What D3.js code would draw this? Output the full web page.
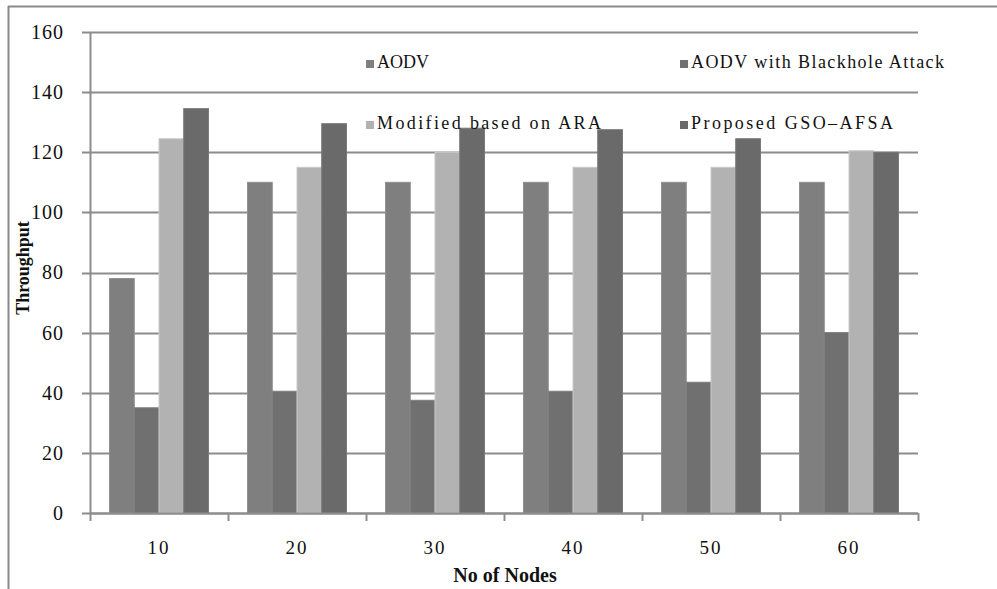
<!DOCTYPE html>
<html><head><meta charset="utf-8">
<script src="https://cdn.jsdelivr.net/npm/d3@7"></script>
<style>body{margin:0;background:#fff;}svg{display:block;}</style>
</head><body>
<script>
const categories = ["10","20","30","40","50","60"];
const seriesNames = ["AODV","AODV with Blackhole Attack","Modified based on ARA","Proposed GSO–AFSA"];
const aodv = [78,110,110,110,110,110];
const blackhole = [35,40.5,37.5,40.5,43.5,60];
const modifiedARA = [124.5,115,120,115,115,120.5];
const proposed = [134.5,129.5,128,127.5,124.5,120];
const yTicks = [0,20,40,60,80,100,120,140,160];
const colors = ["#7f7f7f","#707070","#b2b2b2","#6a6a6a"];
const series = [aodv, blackhole, modifiedARA, proposed];

const W = 997, H = 589;
const m = {left:90, right:79, top:32, bottom:76};
const svg = d3.select("body").append("svg").attr("width",W).attr("height",H);
const font = "'Liberation Serif','Times New Roman',serif";

// outer frame (top and left only visible)
svg.append("line").attr("x1",8).attr("x2",W).attr("y1",6.5).attr("y2",6.5).attr("stroke","#8a8a8a").attr("stroke-width",2);
svg.append("line").attr("x1",8.5).attr("x2",8.5).attr("y1",6).attr("y2",H).attr("stroke","#8a8a8a").attr("stroke-width",2);

const x0 = d3.scaleBand().domain(categories).range([m.left, W-m.right]).paddingInner(0).paddingOuter(0);
const y = d3.scaleLinear().domain([0,160]).range([H-m.bottom, m.top]);
const groupW = x0.bandwidth();
const x1 = d3.scaleBand().domain(d3.range(4)).range([0, groupW]).paddingInner(0).paddingOuter(0.79);

// gridlines
svg.append("g").selectAll("line").data(yTicks).join("line")
  .attr("x1",m.left-8).attr("x2",W-m.right)
  .attr("y1",d=>Math.round(y(d))+0.5).attr("y2",d=>Math.round(y(d))+0.5)
  .attr("stroke","#8c8c8c").attr("stroke-width",2);

// bars
const g = svg.append("g");
categories.forEach((c,ci)=>{
  series.forEach((s,si)=>{
    g.append("rect")
      .attr("x", x0(c)+x1(si))
      .attr("y", y(s[ci]))
      .attr("width", x1.bandwidth())
      .attr("height", y(0)-y(s[ci]))
      .attr("fill", colors[si])
      .attr("stroke", d3.color(colors[si]).brighter(0.35))
      .attr("stroke-width",1);
  });
});

// y axis line
svg.append("line").attr("x1",m.left+0.5).attr("x2",m.left+0.5).attr("y1",m.top).attr("y2",H-m.bottom)
  .attr("stroke","#8c8c8c").attr("stroke-width",2);
// x axis
const xAxis = d3.axisBottom(x0).tickSize(0).tickPadding(28);
const xg = svg.append("g").attr("transform",`translate(0,${H-m.bottom})`).call(xAxis);
xg.select(".domain").remove();
xg.selectAll("text").attr("font-family",font).attr("font-size",19).attr("fill","#111").attr("letter-spacing",2);
svg.append("line").attr("x1",m.left).attr("x2",W-m.right).attr("y1",H-m.bottom+0.5).attr("y2",H-m.bottom+0.5)
  .attr("stroke","#8c8c8c").attr("stroke-width",2);
// category tick marks at boundaries
const bounds = categories.map(c=>x0(c)).concat([W-m.right]);
svg.append("g").selectAll("line").data(bounds).join("line")
  .attr("x1",d=>d+0.5).attr("x2",d=>d+0.5).attr("y1",H-m.bottom).attr("y2",H-m.bottom+8)
  .attr("stroke","#8c8c8c").attr("stroke-width",2);

// y tick labels
const yAxis = d3.axisLeft(y).tickValues(yTicks).tickSize(0).tickPadding(26);
const yg = svg.append("g").attr("transform",`translate(${m.left},0)`).call(yAxis);
yg.select(".domain").remove();
yg.selectAll("text").attr("font-family",font).attr("font-size",20).attr("fill","#111").attr("letter-spacing",1);

// axis titles
svg.append("text").attr("transform","translate(29,268) rotate(-90)").attr("text-anchor","middle")
  .attr("font-family",font).attr("font-weight","bold").attr("font-size",18).attr("fill","#111").text("Throughput");
svg.append("text").attr("x",505).attr("y",582).attr("text-anchor","middle")
  .attr("font-family",font).attr("font-weight","bold").attr("font-size",20).attr("fill","#111").text("No of Nodes");

// legend
const legendPos = [[366,68],[680,68],[366,129],[680,129]];
const legendLen = [null,253,224,202];
seriesNames.forEach((n,i)=>{
  const [lx,ly]=legendPos[i];
  svg.append("rect").attr("x",lx).attr("y",ly-8).attr("width",8).attr("height",8).attr("fill",colors[i]);
  const t = svg.append("text").attr("x",lx+11).attr("y",ly).attr("font-family",font).attr("font-size",18)
    .attr("fill","#111").text(n);
  if (legendLen[i]) t.attr("textLength",legendLen[i]).attr("lengthAdjust","spacing");
});
</script>
</body></html>
